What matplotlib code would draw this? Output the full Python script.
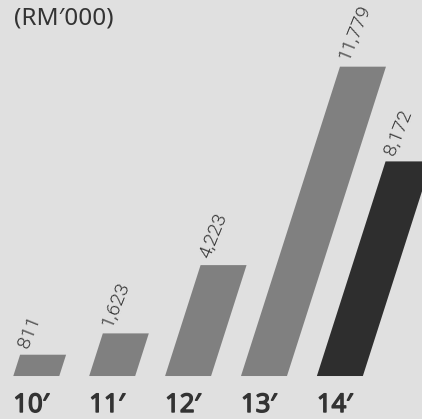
import matplotlib
matplotlib.use("Agg")
import matplotlib.pyplot as plt
from matplotlib.patches import Polygon
from matplotlib import font_manager as fm
import matplotlib.patheffects as pe

years = ["10′", "11′", "12′", "13′", "14′"]
values = [811, 1623, 4223, 11779, 8172]
labels = ["811", "1,623", "4,223", "11,779", "8,172"]
colors = ["#808080", "#808080", "#808080", "#808080", "#2e2e2e"]
title = "(RM′000)"

BG = "#e0e0e0"
TXT = "#333333"
SLANT = 0.32
BAR_W = 0.606

def find_font(candidates, size):
    for name, weight in candidates:
        for f in fm.fontManager.ttflist:
            if f.name == name and f.weight == weight and f.style == "normal":
                return fm.FontProperties(fname=f.fname, size=size)
    return fm.FontProperties(family="DejaVu Sans", size=size)

fp_val = find_font([("Roboto", 300), ("Roboto", 400)], 14)
fp_year = fm.FontProperties(family=["Noto Sans", "DejaVu Sans"], size=18.5)
fp_title = fm.FontProperties(family=["Noto Sans", "DejaVu Sans"], size=17.5)

fig = plt.figure(figsize=(4.22, 4.19), dpi=100, facecolor=BG)
ax = fig.add_axes([0, 0, 1, 1])
ax.set_facecolor(BG)
ax.set_xlim(-0.478, 5.082)
ax.set_ylim(-1637, 14318)
ax.axis("off")

p00 = ax.transData.transform((0, 0))
p11 = ax.transData.transform((1, 1000))
px_per_x = p11[0] - p00[0]
px_per_y = (p11[1] - p00[1]) / 1000.0

for i, (v, lab, c) in enumerate(zip(values, labels, colors)):
    shift = SLANT * v * px_per_y / px_per_x
    x0 = i - BAR_W / 2
    verts = [(x0, 0), (x0 + BAR_W, 0), (x0 + BAR_W + shift, v), (x0 + shift, v)]
    ax.add_patch(Polygon(verts, closed=True, facecolor=c, edgecolor="none"))
    ax.annotate(lab, xy=(x0 + shift, v), xytext=(12, 4), textcoords="offset pixels",
                rotation=68, rotation_mode="anchor", ha="left", va="bottom",
                fontproperties=fp_val, color=TXT)
    ax.annotate(years[i], xy=(x0, 0), xytext=(0, -36), textcoords="offset pixels",
                ha="left", va="baseline", fontproperties=fp_year, color=TXT,
                path_effects=[pe.withStroke(linewidth=1.0, foreground=TXT)])

fig.text(14 / 422, 1 - 6 / 419, title, ha="left", va="top",
         fontproperties=fp_title, color=TXT)

fig.savefig("out.png", dpi=100, facecolor=BG)
